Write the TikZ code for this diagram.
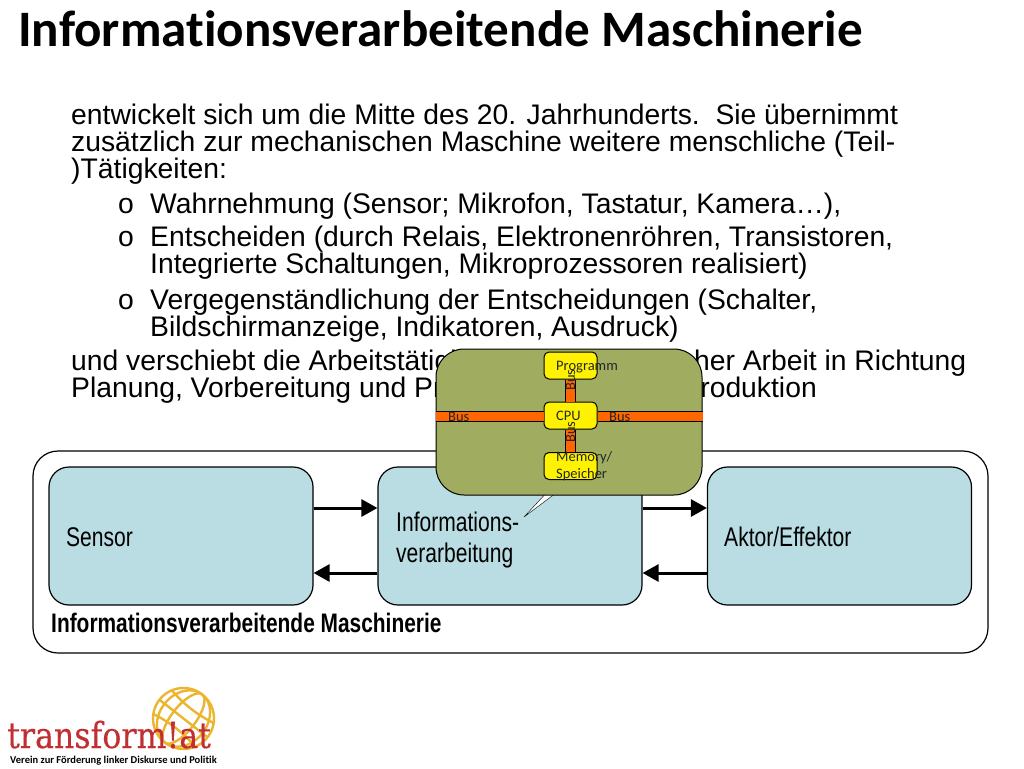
\documentclass[tikz,border=0pt]{standalone}
\usepackage{fontspec}
\setmainfont{Liberation Sans}
\newfontfamily\titlefont[Ligatures=CommonOff]{Carlito}
\newfontfamily\narrowfont[FakeStretch=0.78]{Liberation Sans}
\newfontfamily\logofont[FakeStretch=0.88,FakeBold=0.3]{DejaVu Serif}
\usetikzlibrary{arrows.meta, positioning}

\definecolor{blockteal}{HTML}{B9DDE2}
\definecolor{calloutolive}{HTML}{A0AD60}
\definecolor{busorange}{HTML}{FF6600}
\definecolor{logored}{HTML}{C22F33}
\definecolor{logogold}{HTML}{EBB52F}

\begin{document}
\begin{tikzpicture}[x=1pt, y=-1pt,
    line join=round,
    bodyline/.style={anchor=base west, inner sep=0pt, font=\fontsize{28.3}{28}\selectfont},
    block/.style={rectangle, draw=black, line width=1.2pt, fill=blockteal, rounded corners=20pt,
                  minimum width=264pt, minimum height=138pt},
    blocklabel/.style={anchor=base west, inner sep=0pt, align=left,
                       font=\narrowfont\fontsize{27}{31}\selectfont},
    flow/.style={-{Triangle[length=16pt,width=17pt]}, line width=3pt},
    cpubox/.style={rectangle, draw=black, line width=1pt, fill=yellow, rounded corners=5pt,
                   minimum width=53pt, minimum height=27pt, inner sep=0pt},
    busline/.style={line width=1pt, draw=black, double=busorange, double distance=9pt},
    buslabel/.style={inner sep=0pt, text=black!85, font=\titlefont\fontsize{14.5}{17}\selectfont}]

  \useasboundingbox (0,0) rectangle (1024,768);

  % Title and body text
  \node (title) [anchor=base west, inner sep=0pt, font=\titlefont\bfseries\fontsize{51.1}{51}\selectfont]
        at (18,47) {Informationsverarbeitende Maschinerie};
  \node (intro1) [bodyline] at (71,124) {entwickelt sich um die Mitte des 20. Jahrhunderts.\ \ Sie übernimmt};
  \node (intro2) [bodyline] at (71,151) {zusätzlich zur mechanischen Maschine weitere menschliche (Teil-};
  \node (intro3) [bodyline] at (71,178) {)Tätigkeiten:};
  \node (bullet1) [bodyline] at (118,213) {o};
  \node (item1) [bodyline] at (150,213) {Wahrnehmung (Sensor; Mikrofon, Tastatur, Kamera…),};
  \node (bullet2) [bodyline] at (118,246) {o};
  \node (item2a) [bodyline] at (150,246) {Entscheiden (durch Relais, Elektronenröhren, Transistoren,};
  \node (item2b) [bodyline] at (150,273) {Integrierte Schaltungen, Mikroprozessoren realisiert)};
  \node (bullet3) [bodyline] at (118,309) {o};
  \node (item3a) [bodyline] at (150,309) {Vergegenständlichung der Entscheidungen (Schalter,};
  \node (item3b) [bodyline] at (150,336) {Bildschirmanzeige, Indikatoren, Ausdruck)};
  \node (outro1) [bodyline] at (71,370) {und verschiebt die Arbeitstätigkeiten von körperlicher Arbeit in Richtung};
  \node (outro2) [bodyline] at (71,397) {Planung, Vorbereitung und Programmierung der Produktion};

  % Outer frame with the three blocks
  \node (frame) [rectangle, draw=black, line width=1.2pt, rounded corners=25pt, minimum width=955pt,
                 minimum height=202pt] at (510.5,552) {};
  \node (sensor) [block] at (181,536) {};
  \node (info) [block] at (510,536) {};
  \node (aktor) [block] at (839.5,536) {};
  \node (sensortext) [blocklabel] at (66,546) {Sensor};
  \node (infotext) [blocklabel] at (396,562) {Informations-\\verarbeitung};
  \node (aktortext) [blocklabel] at (724,546) {Aktor/Effektor};
  \node (frametext) [anchor=base west, inner sep=0pt, font=\narrowfont\bfseries\fontsize{26.8}{26}\selectfont]
        at (51,632) {Informationsverarbeitende Maschinerie};

  % Arrows between the blocks
  \draw[flow] ([yshift=28pt]sensor.east) -- ([yshift=28pt]info.west);
  \draw[flow] ([yshift=-37pt]info.west) -- ([yshift=-37pt]sensor.east);
  \draw[flow] ([yshift=28pt]info.east) -- ([yshift=28pt]aktor.west);
  \draw[flow] ([yshift=-37pt]aktor.west) -- ([yshift=-37pt]info.east);

  % Callout, tail first so that the box covers its top
  \coordinate (tailtip) at (524,517);
  \draw[fill=white] (tailtip) -- (549,490) -- (560,490) -- cycle;
  \node (callout) [rectangle, draw=black, line width=1pt, fill=calloutolive, rounded corners=28pt,
                   minimum width=266pt, minimum height=146pt] at (569,422) {};
  \node (programm) [cpubox] at (570.5,365.5) {};
  \node (cpu) [cpubox] at (570.5,415.5) {};
  \node (memory) [cpubox] at (570.5,466) {};
  \draw[busline] (programm) -- (cpu);
  \draw[busline] (cpu) -- (memory);
  \draw[busline] ([yshift=-1pt]callout.west |- cpu.west) -- ([yshift=-1pt]cpu.west);
  \draw[busline] ([yshift=-1pt]callout.east |- cpu.east) -- ([yshift=-1pt]cpu.east);

  % Labels of the callout
  \node (programmtext) [buslabel, anchor=west] at (556,367) {Programm};
  \node (cputext) [buslabel, anchor=west] at (556,416) {CPU};
  \node (memorytext) [buslabel, anchor=west, align=left] at (556,466.5) {Memory/\\Speicher};
  \node (busleft) [buslabel, anchor=west] at (448,417) {Bus};
  \node (busright) [buslabel, anchor=west] at (609,417) {Bus};
  \node (bustop) [buslabel, rotate=90] at (570.5,380) {Bus};
  \node (busbottom) [buslabel, rotate=90] at (570.5,432) {Bus};

  % Logo
  \draw[logogold, line width=2.4pt] (183.5,718.5) circle (30.5pt);
  \begin{scope}[line width=2.4pt]
    \clip (183.5,718.5) circle (30.5pt);
    \begin{scope}[shift={(183.5,718.5)}, rotate=-38]
      \draw[logogold] (0,0) ellipse (12pt and 30.5pt);
      \draw[logogold] (0,0) ellipse (24pt and 30.5pt);
      \draw[logogold] (-31,0) -- (31,0);
      \draw[logogold] (-31,-16) .. controls (-10,-11) and (10,-11) .. (31,-16);
      \draw[logogold] (-31,16) .. controls (-10,11) and (10,11) .. (31,16);
    \end{scope}
  \end{scope}
  \node (logotext) [anchor=base west, inner sep=0pt, text=logored,
                    font=\logofont\fontsize{36}{36}\selectfont] at (7,748) {transform!at};
  \node (logosub) [anchor=base west, inner sep=0pt,
                   font=\titlefont\bfseries\fontsize{10.5}{10.5}\selectfont] at (10,763)
        {Verein zur Förderung linker Diskurse und Politik};

\end{tikzpicture}
\end{document}
